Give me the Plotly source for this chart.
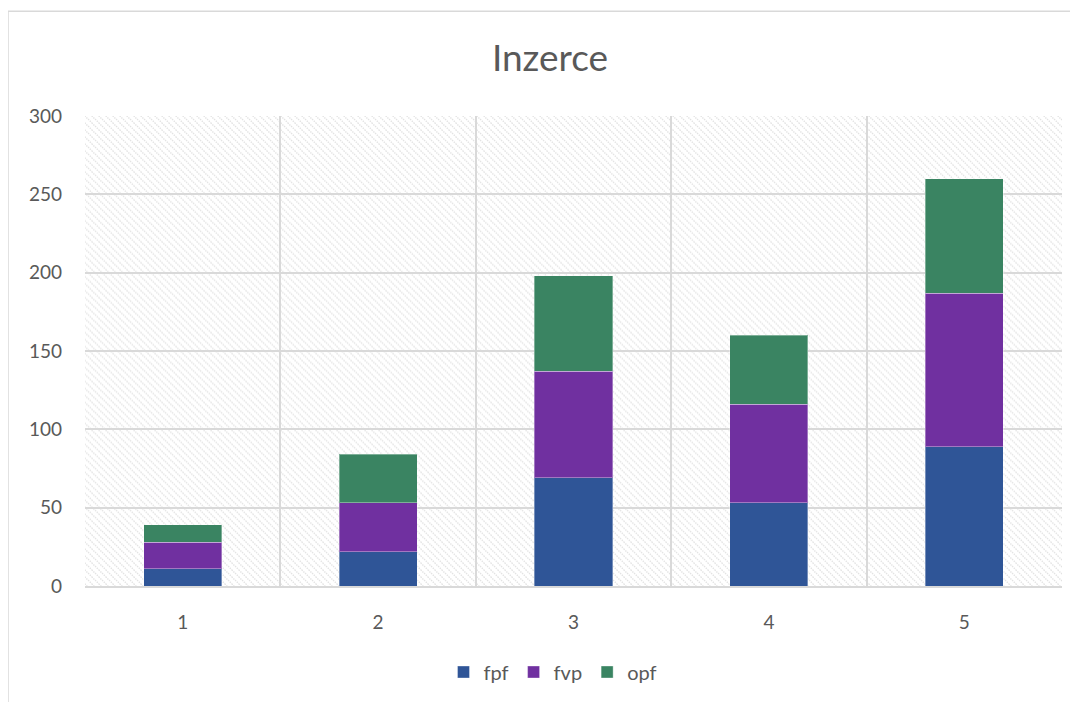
import base64
import plotly.graph_objects as go

categories = [1, 2, 3, 4, 5]
fpf = [11, 22, 69, 53, 89]
fvp = [17, 31, 68, 63, 98]
opf = [11, 31, 61, 44, 73]

series_names = ["fpf", "fvp", "opf"]
series_colors = ["#2F5597", "#7030A0", "#3A8462"]

# page body has an 8px margin, so the figure is sized / offset for that
OFF = 8
W, H = 1078 - OFF, 702 - OFF
L, R, T, B = 85 - OFF, 16, 116 - OFF, 115
pw, ph = W - L - R, H - T - B

# hatched plot background (excel "downward diagonal" pattern)
svg = (
    f"<svg xmlns='http://www.w3.org/2000/svg' width='{pw}' height='{ph}'>"
    "<defs><pattern id='p' width='7' height='7' patternUnits='userSpaceOnUse'>"
    "<path d='M-2,-2 L9,9 M-2,5 L2,9 M5,-2 L9,2' stroke='#e2e2e2' stroke-width='1.4' "
    "stroke-dasharray='1.4,1'/>"
    "</pattern></defs><rect width='100%' height='100%' fill='url(#p)'/></svg>"
)
bg_src = "data:image/svg+xml;base64," + base64.b64encode(svg.encode()).decode()

fig = go.Figure()
for name, vals, col in zip(series_names, [fpf, fvp, opf], series_colors):
    fig.add_trace(go.Bar(
        x=categories, y=vals, name=name,
        marker=dict(color=col, line=dict(color="rgba(255,255,255,0.35)", width=1)),
    ))

grey = "#595959"
fnt = "Lato, 'Open Sans', sans-serif"

fig.update_layout(
    width=W, height=H,
    margin=dict(l=L, r=R, t=T, b=B),
    barmode="stack", bargap=0.6,
    paper_bgcolor="white", plot_bgcolor="rgba(0,0,0,0)",
    font=dict(family=fnt, color=grey, size=19),
    title=dict(text="Inzerce", x=(550 - OFF) / W, xanchor="center",
               y=1 - (58 - OFF) / H, yanchor="middle",
               font=dict(size=37, color=grey, family=fnt)),
    legend=dict(orientation="h", x=(553 - 85) / pw, xanchor="center",
                y=(587 - 672) / ph, yanchor="middle", font=dict(size=20, color=grey),
                itemwidth=30, traceorder="normal"),
    images=[dict(source=bg_src, xref="paper", yref="paper", x=0, y=1, sizex=1, sizey=1,
                 sizing="stretch", layer="below", xanchor="left", yanchor="top")],
    shapes=[dict(type="rect", xref="paper", yref="paper",
                 x0=(8 - 85) / pw, x1=(1077 - 85) / pw,
                 y0=(587 - 720) / ph, y1=(587 - 11) / ph,
                 line=dict(color="#d9d9d9", width=1.5), fillcolor="rgba(0,0,0,0)", layer="below")],
)

fig.update_xaxes(
    range=[0.5, 5.5], tickvals=categories, showgrid=False, zeroline=False,
    showline=True, linecolor="#d9d9d9", linewidth=1.5, ticks="", ticklabelstandoff=18,
    minor=dict(tickvals=[0.5, 1.5, 2.5, 3.5, 4.5, 5.5], showgrid=True,
               gridcolor="#d9d9d9", gridwidth=1.5, ticks=""),
    tickfont=dict(size=19, color=grey),
)
fig.update_yaxes(
    range=[0, 300], dtick=50, showgrid=True, gridcolor="#d9d9d9", gridwidth=1.5,
    zeroline=False, showline=False, ticks="", ticklabelstandoff=22,
    tickfont=dict(size=19, color=grey),
)

fig.write_html("out.html")
